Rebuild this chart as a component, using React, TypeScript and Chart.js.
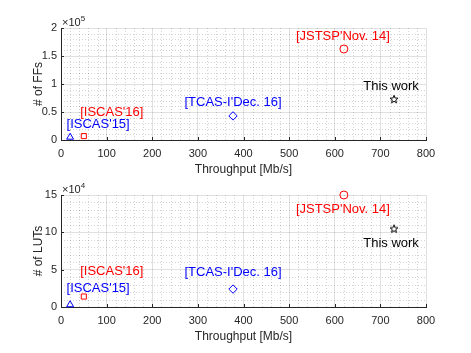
import React, { useEffect, useRef } from 'react';
import { Chart, registerables } from 'chart.js';

Chart.register(...registerables);

// ---- data ----
const works = ["[ISCAS'15]", "[ISCAS'16]", "[TCAS-I'Dec. 16]", "[JSTSP'Nov. 14]", 'This work'];
const throughput = [20, 50, 377, 620, 730];
const ffCounts = [5000, 7000, 43000, 162500, 73000];
const lutCounts = [3000, 14000, 24000, 150000, 105000];
const xTickValues = [0, 100, 200, 300, 400, 500, 600, 700, 800];
const ffTickValues = [0, 0.5, 1, 1.5, 2]; // x10^5
const lutTickValues = [0, 5, 10, 15]; // x10^4

// ---- styles ----
const FONT = '"Liberation Sans", Arial, Helvetica, sans-serif';
const AXIS_COLOR = '#262626';
const colors = ['#0000ff', '#ff0000', '#0000ff', '#ff0000', '#000000'];
const labelColors = ['#0000ff', '#ff0000', '#0000ff', '#ff0000', '#000000'];

function makeStar(): HTMLCanvasElement {
  const c = document.createElement('canvas');
  c.width = 12;
  c.height = 12;
  const g = c.getContext('2d')!;
  g.strokeStyle = '#000';
  g.lineWidth = 1;
  g.beginPath();
  const cx = 6, cy = 6.4, R = 4.2, r = 1.8;
  for (let i = 0; i < 10; i++) {
    const a = -Math.PI / 2 + (i * Math.PI) / 5;
    const rad = i % 2 === 0 ? R : r;
    const px = cx + rad * Math.cos(a);
    const py = cy + rad * Math.sin(a);
    if (i === 0) g.moveTo(px, py);
    else g.lineTo(px, py);
  }
  g.closePath();
  g.stroke();
  return c;
}

type Panel = {
  values: number[];
  yTicks: number[];
  exp: number;
  yTitle: string;
  minorY: number;
  offsets: [number, number][];
  padTop: number;
  padBottom: number;
  height: number;
};

function buildChart(canvas: HTMLCanvasElement, p: Panel) {
  const scale = Math.pow(10, p.exp);
  const star = makeStar();
  const pointStyles: any[] = ['triangle', 'rect', 'rectRot', 'circle', star];
  const radii = [4, 3.6, 4.2, 4, 6];
  const yMax = p.yTicks[p.yTicks.length - 1] * scale;
  const yStep = (p.yTicks[1] - p.yTicks[0]) * scale;

  const overlay = {
    id: 'overlay',
    beforeDatasetsDraw(chart: any) {
      const { ctx, chartArea, scales } = chart;
      const { left, right, top, bottom } = chartArea;
      const xs = scales.x, ys = scales.y;
      ctx.save();
      ctx.strokeStyle = 'rgba(0,0,0,0.17)';
      ctx.lineWidth = 1;
      ctx.setLineDash([1, 2]);
      for (let v = 0; v <= 800; v += 20) {
        if (v % 100 === 0) continue;
        const px = Math.round(xs.getPixelForValue(v)) + 0.5;
        ctx.beginPath();
        ctx.moveTo(px, top);
        ctx.lineTo(px, bottom);
        ctx.stroke();
      }
      for (let v = 0; v <= yMax + 1; v += p.minorY) {
        if (Math.abs(v / yStep - Math.round(v / yStep)) < 1e-6) continue;
        const py = Math.round(ys.getPixelForValue(v)) + 0.5;
        ctx.beginPath();
        ctx.moveTo(left, py);
        ctx.lineTo(right, py);
        ctx.stroke();
      }
      ctx.restore();
    },
    afterDraw(chart: any) {
      const { ctx, chartArea, scales } = chart;
      const { left, top, bottom } = chartArea;
      const xs = scales.x, ys = scales.y;
      ctx.save();
      // inward ticks
      ctx.strokeStyle = AXIS_COLOR;
      ctx.lineWidth = 1;
      xTickValues.forEach((v) => {
        const px = Math.round(xs.getPixelForValue(v)) + 0.5;
        ctx.beginPath();
        ctx.moveTo(px, bottom);
        ctx.lineTo(px, bottom - 3);
        ctx.stroke();
      });
      p.yTicks.forEach((v) => {
        const py = Math.round(ys.getPixelForValue(v * scale)) + 0.5;
        ctx.beginPath();
        ctx.moveTo(left, py);
        ctx.lineTo(left + 3, py);
        ctx.stroke();
      });
      // exponent label
      ctx.fillStyle = AXIS_COLOR;
      ctx.textAlign = 'left';
      ctx.textBaseline = 'alphabetic';
      ctx.font = `11px ${FONT}`;
      ctx.fillText('\u00d710', left + 1, top - 2);
      const w = ctx.measureText('\u00d710').width;
      ctx.font = `8px ${FONT}`;
      ctx.fillText(String(p.exp), left + 1 + w, top - 7);
      // annotations
      ctx.font = `13px ${FONT}`;
      ctx.textAlign = 'center';
      ctx.textBaseline = 'middle';
      works.forEach((name, i) => {
        const px = xs.getPixelForValue(throughput[i]);
        const py = ys.getPixelForValue(p.values[i]);
        ctx.fillStyle = labelColors[i];
        ctx.fillText(name, px + p.offsets[i][0], py + p.offsets[i][1]);
      });
      ctx.restore();
    },
  };

  return new Chart(canvas, {
    type: 'scatter',
    data: {
      datasets: [
        {
          data: throughput.map((x, i) => ({ x, y: p.values[i] })),
          pointStyle: pointStyles,
          pointRadius: radii,
          pointHoverRadius: radii,
          borderColor: colors,
          backgroundColor: 'rgba(0,0,0,0)',
          borderWidth: 1,
          clip: false as any,
        } as any,
      ],
    },
    options: {
      animation: false,
      responsive: false,
      devicePixelRatio: 1,
      events: [],
      layout: { padding: { left: 0, right: 45, top: p.padTop, bottom: p.padBottom } },
      plugins: { legend: { display: false }, tooltip: { enabled: false } },
      scales: {
        x: {
          type: 'linear',
          position: 'bottom',
          min: 0,
          max: 800,
          afterBuildTicks: (s: any) => {
            s.ticks = xTickValues.map((value) => ({ value }));
          },
          ticks: {
            color: AXIS_COLOR,
            font: { family: FONT, size: 11 },
            padding: 7,
            maxRotation: 0,
            autoSkip: false,
          },
          grid: { color: 'rgba(0,0,0,0.12)', drawTicks: false, lineWidth: 1 },
          border: { color: AXIS_COLOR, width: 1 },
          title: {
            display: true,
            text: 'Throughput [Mb/s]',
            color: AXIS_COLOR,
            font: { family: FONT, size: 12, lineHeight: 1 },
            padding: { top: 0, bottom: 0 },
          },
          afterFit: (s: any) => {
            s.height = 36;
          },
        },
        y: {
          type: 'linear',
          position: 'left',
          min: 0,
          max: yMax,
          afterBuildTicks: (s: any) => {
            s.ticks = p.yTicks.map((t) => ({ value: t * scale }));
          },
          ticks: {
            color: AXIS_COLOR,
            font: { family: FONT, size: 11 },
            padding: 4,
            autoSkip: false,
            callback: (v: any) => String(Math.round((v / scale) * 10) / 10),
          },
          grid: { color: 'rgba(0,0,0,0.12)', drawTicks: false, lineWidth: 1 },
          border: { color: AXIS_COLOR, width: 1 },
          title: {
            display: true,
            text: p.yTitle,
            color: AXIS_COLOR,
            font: { family: FONT, size: 12, lineHeight: 1 },
            padding: { top: 33, bottom: 0 },
          },
          afterFit: (s: any) => {
            s.width = 61;
          },
        },
      },
    },
    plugins: [overlay],
  });
}

const topPanel: Panel = {
  values: ffCounts,
  yTicks: ffTickValues,
  exp: 5,
  yTitle: '# of FFs',
  minorY: 10000,
  offsets: [[28, -13], [28, -24], [0, -13], [-1, -13], [-3, -13]],
  padTop: 28,
  padBottom: 0,
  height: 176,
};

const bottomPanel: Panel = {
  values: lutCounts,
  yTicks: lutTickValues,
  exp: 4,
  yTitle: '# of LUTs',
  minorY: 10000,
  offsets: [[28, -16], [28, -25], [0, -17], [-1, 14], [-3, 15]],
  padTop: 19,
  padBottom: 10,
  height: 177,
};

function PanelChart({ panel, top }: { panel: Panel; top: number }) {
  const ref = useRef<HTMLCanvasElement>(null);
  useEffect(() => {
    if (!ref.current) return;
    const c = buildChart(ref.current, panel);
    return () => c.destroy();
  }, [panel]);
  return (
    <canvas
      ref={ref}
      width={471}
      height={panel.height}
      style={{ position: 'absolute', left: 0, top, width: 471, height: panel.height, display: 'block' }}
    />
  );
}

export default function App() {
  return (
    <div style={{ position: 'absolute', left: 0, top: 0, width: 471, height: 353, background: '#fff' }}>
      <PanelChart panel={topPanel} top={0} />
      <PanelChart panel={bottomPanel} top={176} />
    </div>
  );
}
